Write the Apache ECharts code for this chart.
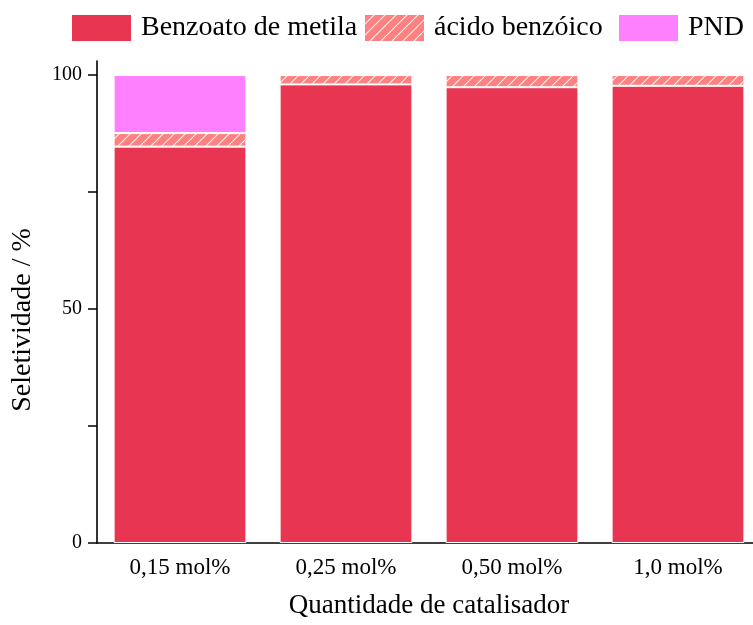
<!DOCTYPE html>
<html>
<head>
<meta charset="utf-8">
<script src="https://cdn.jsdelivr.net/npm/echarts@6/dist/echarts.min.js"></script>
<style>
  html, body { margin: 0; padding: 0; background: #fff; overflow: hidden; width: 753px; height: 625px; }
  /* the plot area runs a few pixels past the right edge of the page */
  #chart { width: 761px; height: 625px; }
</style>
</head>
<body>
<div id="chart"></div>
<script>
// Catalyst loadings and product selectivities (%)
const categories = ['0,15 mol%', '0,25 mol%', '0,50 mol%', '1,0 mol%'];
const benzoatoMetila = [84.7, 98.0, 97.4, 97.7];
const acidoBenzoico = [2.9, 2.0, 2.6, 2.3];
const pnd = [12.4, 0, 0, 0];
const yTicks = [0, 25, 50, 75, 100];
const yLabels = [0, 50, 100];

const FONT = 'Liberation Serif';

// Diagonal white hatch on salmon for the benzoic acid fraction
function makeHatch() {
  const s = 11;
  const c = document.createElement('canvas');
  c.width = s; c.height = s;
  const g = c.getContext('2d');
  g.fillStyle = '#FF8080';
  g.fillRect(0, 0, s, s);
  g.strokeStyle = 'rgba(255,255,255,0.9)';
  g.lineWidth = 1.1;
  g.beginPath();
  g.moveTo(-s, s * 2); g.lineTo(s * 2, -s);
  g.moveTo(-s * 2, s); g.lineTo(s, -s * 2);
  g.moveTo(0, s * 2); g.lineTo(s * 2, 0);
  g.stroke();
  return c;
}
const hatchColor = { image: makeHatch(), repeat: 'repeat' };

const chart = echarts.init(document.getElementById('chart'), null, { renderer: 'canvas' });

const legendBase = {
  top: 13,
  padding: 0,
  icon: 'rect',
  itemWidth: 61,
  itemHeight: 28,
  itemGap: 0,
  textStyle: { fontFamily: FONT, fontSize: 28, color: '#000', padding: [0, 0, 0, 4] }
};

const barStyle = { borderColor: '#fff', borderWidth: 1 };

chart.setOption({
  backgroundColor: '#fff',
  animation: false,
  legend: [
    Object.assign({}, legendBase, { left: 70, data: ['Benzoato de metila'] }),
    Object.assign({}, legendBase, { left: 363, data: ['ácido benzóico'] }),
    Object.assign({}, legendBase, { left: 617, data: ['PND'] })
  ],
  grid: { left: 97, top: 61, right: 0, bottom: 82, containLabel: false },
  xAxis: [
    {
      type: 'category',
      data: categories,
      name: 'Quantidade de catalisador',
      nameLocation: 'middle',
      nameGap: 49,
      nameTextStyle: { fontFamily: FONT, fontSize: 27, color: '#000' },
      axisLine: { lineStyle: { color: '#000', width: 1.6 } },
      axisTick: { alignWithLabel: true, length: 9, inside: false, lineStyle: { color: '#000', width: 1.5 } },
      axisLabel: { fontFamily: FONT, fontSize: 23, color: '#000', margin: 13 }
    },
    {
      type: 'category',
      data: categories,
      position: 'bottom',
      axisLine: { show: false },
      axisTick: { alignWithLabel: false, length: 4, lineStyle: { color: '#000', width: 1.5 } },
      axisLabel: { show: false },
      splitLine: { show: false }
    }
  ],
  yAxis: {
    type: 'value',
    min: 0,
    max: 103,
    name: 'Seletividade / %',
    nameLocation: 'middle',
    nameRotate: 90,
    nameGap: 60,
    nameTextStyle: { fontFamily: FONT, fontSize: 28, color: '#000', padding: [0, 36, 0, 0] },
    axisLine: { show: true, lineStyle: { color: '#000', width: 1.6 } },
    axisTick: { show: true, length: 9, customValues: yTicks, lineStyle: { color: '#000', width: 1.5 } },
    axisLabel: { fontFamily: FONT, fontSize: 20, color: '#000', margin: 15, customValues: yLabels },
    splitLine: { show: false }
  },
  series: [
    {
      name: 'Benzoato de metila',
      type: 'bar',
      stack: 'sel',
      xAxisIndex: 0,
      barCategoryGap: '20%',
      data: benzoatoMetila,
      itemStyle: Object.assign({ color: '#E73552' }, barStyle)
    },
    {
      name: 'ácido benzóico',
      type: 'bar',
      stack: 'sel',
      xAxisIndex: 0,
      data: acidoBenzoico,
      itemStyle: Object.assign({ color: hatchColor }, barStyle)
    },
    {
      name: 'PND',
      type: 'bar',
      stack: 'sel',
      xAxisIndex: 0,
      data: pnd,
      itemStyle: Object.assign({ color: '#FF80FF' }, barStyle)
    }
  ]
});
</script>
</body>
</html>
